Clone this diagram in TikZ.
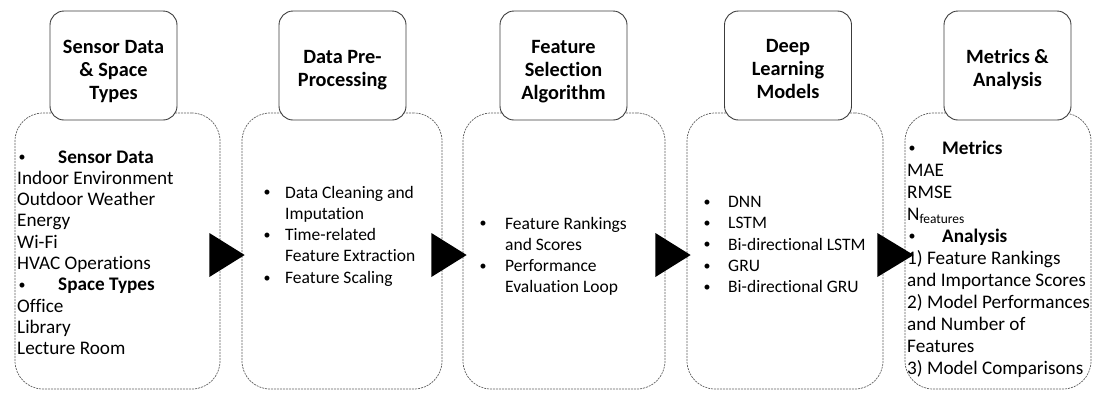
\documentclass[tikz,border=0pt]{standalone}
\usepackage{fontspec}
\setmainfont{Carlito}[Ligatures=NoCommon]
\usetikzlibrary{calc}
\definecolor{dashgray}{RGB}{95,95,95}
\definecolor{titlegray}{RGB}{60,60,60}
\newcommand{\bul}[1]{\makebox[#1][l]{\hspace*{1.5pt}\raisebox{1.2pt}{\fontsize{14}{14}\selectfont •}}}
\begin{document}
\begin{tikzpicture}[x=1pt,y=-1pt,
  bigbox/.style={draw=dashgray, line width=0.7pt, dash pattern=on 2pt off 1pt, rounded corners=28pt, inner sep=0pt, minimum height=276pt},
  titlebox/.style={draw=titlegray, line width=0.9pt, fill=white, rounded corners=14pt, minimum width=127pt, minimum height=109pt, inner sep=0pt},
  titletext/.style={anchor=base, inner sep=0pt, font=\fontsize{20.3}{23.3}\selectfont\bfseries},
  bodytext/.style={anchor=base west, inner sep=0pt, font=\fontsize{19.2}{21.3}\selectfont},
  smalltext/.style={anchor=base west, inner sep=0pt, font=\fontsize{17.5}{21.3}\selectfont},
  arrowfill/.style={fill=black}]
\useasboundingbox (0,0) rectangle (1094,397);
% dashed content boxes
\node[bigbox, minimum width=205pt] (b1) at (117.5,251) {};
\node[bigbox, minimum width=200pt] (b2) at (342,251) {};
\node[bigbox, minimum width=202pt] (b3) at (564,251) {};
\node[bigbox, minimum width=196pt] (b4) at (785,251) {};
\node[bigbox, minimum width=186pt] (b5) at (998,251) {};
% arrows
\fill[arrowfill] ($(b1.east)+(-11,-18)$) -- ($(b1.east)+(-11,26)$) -- ($(b2.west)+(3,4)$) -- cycle;
\fill[arrowfill] ($(b2.east)+(-11,-18)$) -- ($(b2.east)+(-11,26)$) -- ($(b3.west)+(4,4)$) -- cycle;
\fill[arrowfill] ($(b3.east)+(-10,-18)$) -- ($(b3.east)+(-10,26)$) -- ($(b4.west)+(4,4)$) -- cycle;
\fill[arrowfill] ($(b4.east)+(-6,-18)$) -- ($(b4.east)+(-6,26)$) -- ($(b5.west)+(9,4)$) -- cycle;
% title boxes
\node[titlebox] (t1) at (113.5,65.5) {};
\node[titlebox] (t2) at (342.5,65.5) {};
\node[titlebox] (t3) at (563.5,65.5) {};
\node[titlebox] (t4) at (788,65.5) {};
\node[titlebox] (t5) at (1007.5,65.5) {};
\node[titletext] (t1x) at (113.5,53) {\parbox[t]{125pt}{\centering Sensor Data\\ \& Space\\ Types}};
\node[titletext] (t2x) at (342.5,63) {\parbox[t]{125pt}{\centering Data Pre-\\ Processing}};
\node[titletext] (t3x) at (563.5,53) {\parbox[t]{125pt}{\centering Feature\\ Selection\\ Algorithm}};
\node[titletext] (t4x) at (788,52) {\parbox[t]{125pt}{\centering Deep\\ Learning\\ Models}};
\node[titletext] (t5x) at (1007.5,63) {\parbox[t]{125pt}{\centering Metrics \&\\ Analysis}};
% body texts
\node[bodytext] (x1) at (17,163) {\parbox[t]{200pt}{\bul{41pt}\textbf{Sensor Data}\\ Indoor Environment\\ Outdoor Weather\\ Energy\\ Wi-Fi\\ HVAC Operations\\ \bul{41pt}\textbf{Space Types}\\ Office\\ Library\\ Lecture Room}};
\node[smalltext] (x2) at (262,198) {\parbox[t]{180pt}{\bul{23pt}Data Cleaning and\\ \hspace*{23pt}Imputation\\ \bul{23pt}Time-related\\ \hspace*{23pt}Feature Extraction\\ \bul{23pt}Feature Scaling}};
\node[smalltext] (x3) at (478,229) {\parbox[t]{180pt}{\bul{27pt}Feature Rankings\\ \hspace*{27pt}and Scores\\ \bul{27pt}Performance\\ \hspace*{27pt}Evaluation Loop}};
\node[smalltext] (x4) at (702,207.5) {\parbox[t]{180pt}{\bul{26pt}DNN\\ \bul{26pt}LSTM\\ \bul{26pt}Bi-directional LSTM\\ \bul{26pt}GRU\\ \bul{26pt}Bi-directional GRU}};
\node[bodytext, font=\fontsize{19.2}{22}\selectfont] (x5) at (907,154) {\parbox[t]{185pt}{\bul{35pt}\textbf{Metrics}\\ MAE\\ RMSE\\ N\textsubscript{features}\\ \bul{35pt}\textbf{Analysis}\\ 1) Feature Rankings\\ and Importance Scores\\ 2) Model Performances\\ and Number of\\ Features\\ 3) Model Comparisons}};
\end{tikzpicture}
\end{document}
